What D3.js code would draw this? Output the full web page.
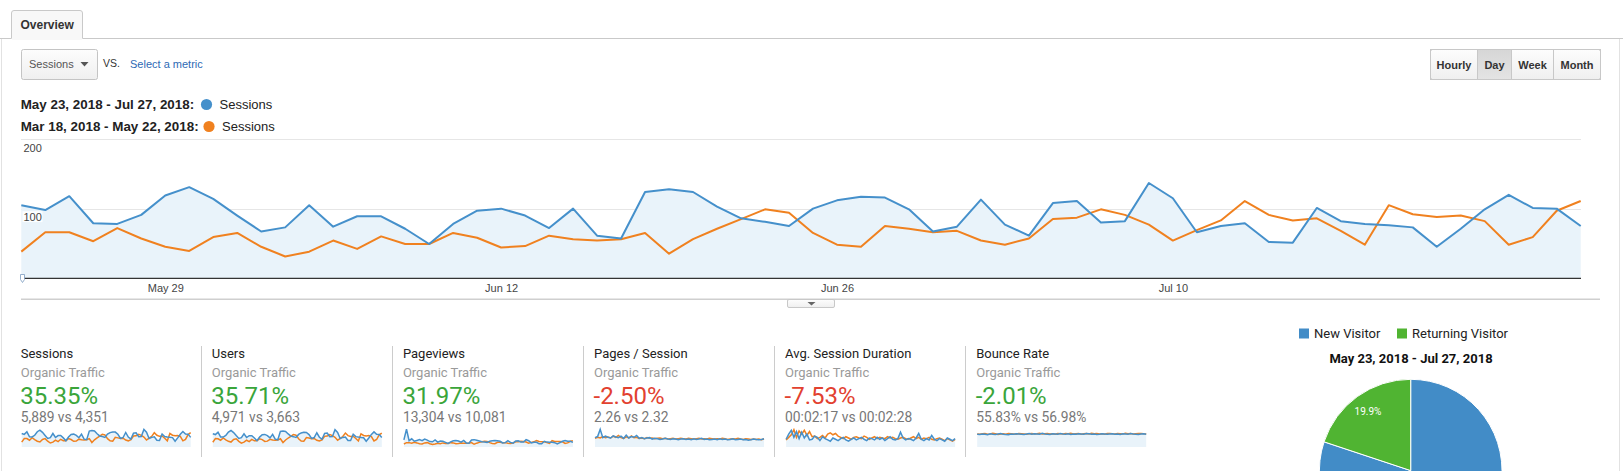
<!DOCTYPE html>
<html><head><meta charset="utf-8">
<script src="https://cdn.jsdelivr.net/npm/d3@7/dist/d3.min.js"></script>
<style>
html,body{margin:0;padding:0;background:#fff;overflow:hidden}
svg text{font-family:"Liberation Sans",Arial,sans-serif}
svg .rb{font-family:Roboto,"Noto Sans",sans-serif}
</style></head><body>
<svg id="c" width="1623" height="471"></svg>
<script>
// ---------- DATA ----------
const startDate = "2018-05-23";
const dayCount = 66;
const sessionsCurrent = [105,98,118,79,78,91,119,131,114,90,67,73,105,74,89,89,71,49,78,97,100,90,72,100,61,57,124,128,124,103,86,81,75,100,112,117,116,99,67,74,113,77,61,108,111,80,82,137,115,66,75,79,52,51,101,82,78,76,73,45,71,99,120,101,100,75];
const sessionsPrevious = [38,66,66,53,72,57,45,39,59,65,45,31,38,54,42,60,49,49,65,58,44,46,61,56,54,56,65,35,56,71,85,99,94,65,48,45,75,71,66,68,54,48,57,85,87,99,91,77,54,69,83,111,91,83,86,68,48,105,92,88,90,82,48,59,97,111];
const xTickLabels = ["May 29","Jun 12","Jun 26","Jul 10"];
const xTickDates = ["2018-05-29","2018-06-12","2018-06-26","2018-07-10"];
const yTicks = [100,200];
const legendRanges = ["May 23, 2018 - Jul 27, 2018:","Mar 18, 2018 - May 22, 2018:"];
const legendMetric = "Sessions";
const intervalButtons = ["Hourly","Day","Week","Month"];

const usersCurrent = [88,83,99,67,66,77,100,110,96,76,57,62,88,63,75,75,60,42,66,82,84,76,61,84,52,48,104,107,104,87,73,69,64,84,94,98,97,83,57,63,95,65,52,91,93,68,69,115,97,56,64,67,44,43,85,69,66,64,62,38,60,84,101,85,84,64];
const usersPrevious = [32,56,55,45,60,48,38,33,50,55,38,26,32,45,36,51,41,41,55,49,37,39,51,47,45,47,55,30,47,60,71,83,79,55,40,38,63,60,55,57,45,40,48,71,73,83,76,65,45,58,70,93,76,70,72,57,40,88,77,74,76,69,40,50,81,93];
const pageviewsCurrent = [260,650,230,300,210,240,270,230,290,250,200,190,260,180,220,210,170,130,190,230,240,220,180,240,150,140,260,270,250,220,190,180,170,210,230,240,230,210,150,160,230,170,140,220,230,180,180,270,230,150,170,170,120,120,210,180,170,170,160,110,160,210,240,210,210,170];
const pageviewsPrevious = [110,160,160,140,170,150,120,110,150,160,120,90,110,140,120,150,130,130,160,150,120,130,150,140,140,140,160,100,140,170,190,210,200,160,130,120,170,170,160,160,140,130,150,190,190,210,200,180,140,170,190,240,200,190,190,160,130,230,200,200,200,190,130,150,210,230];
const pagesPerSessionCurrent = [2.6,2.9,4.9,2.6,3.0,2.7,2.5,3.1,2.8,2.6,3.0,2.4,3.3,2.5,2.9,2.7,3.2,2.4,2.6,2.3,2.5,2.6,2.2,2.4,2.3,2.1,2.2,2.4,2.2,2.1,2.3,2.2,2.0,2.2,2.3,2.1,2.2,2.0,2.3,2.1,2.2,2.4,2.1,2.2,2.0,2.1,2.2,2.0,2.3,2.1,2.2,2.0,2.1,2.3,2.0,2.1,2.2,2.0,2.1,1.9,2.0,2.2,2.1,2.0,2.1,2.3];
const pagesPerSessionPrevious = [2.4,2.7,2.5,2.9,2.6,2.8,2.5,3.0,2.7,3.2,2.6,2.4,2.8,2.5,3.1,2.6,2.7,2.4,2.5,2.3,2.6,2.4,2.5,2.3,2.4,2.5,2.3,2.4,2.2,2.3,2.4,2.2,2.3,2.4,2.3,2.2,2.4,2.3,2.2,2.3,2.4,2.2,2.3,2.2,2.4,2.3,2.2,2.3,2.2,2.4,2.3,2.1,2.2,2.3,2.2,2.4,2.2,2.1,2.3,2.2,2.1,2.2,2.1,2.2,2.0,2.2];
const durationCurrent = [120,200,260,150,240,130,230,140,200,110,120,170,150,100,160,130,110,90,140,120,100,130,150,110,90,120,140,110,130,150,120,100,140,130,110,150,120,140,100,130,160,120,110,130,230,140,110,130,120,100,140,210,120,100,130,110,180,120,100,130,110,90,140,120,100,130];
const durationPrevious = [110,150,190,270,150,250,200,260,180,240,160,170,130,150,180,140,200,220,190,210,170,150,130,160,140,120,150,160,140,130,170,150,120,140,160,130,150,140,130,160,140,150,130,120,140,150,130,120,140,160,130,150,120,140,130,150,120,110,130,140,120,100,130,110,90,120];
const bounceCurrent = [55,54,56,55,53,57,55,54,56,58,55,54,53,56,55,57,56,55,54,56,58,55,57,56,55,59,56,55,54,57,56,55,58,56,55,57,54,56,55,57,56,55,58,57,55,56,54,55,57,56,55,56,57,55,56,54,57,56,55,58,56,55,54,56,57,55];
const bouncePrevious = [56,55,57,58,55,56,59,57,54,56,57,55,58,57,56,55,58,57,56,55,57,58,56,57,59,56,57,58,56,57,55,58,57,56,58,57,59,56,57,58,55,57,58,56,59,57,58,56,57,55,58,59,57,56,58,57,56,59,57,58,56,57,58,59,57,56];

const cardTitles = ["Sessions","Users","Pageviews","Pages / Session","Avg. Session Duration","Bounce Rate"];
const cardSubtitle = "Organic Traffic";
const cardChanges = ["35.35%","35.71%","31.97%","-2.50%","-7.53%","-2.01%"];
const cardGood = [true,true,true,false,false,true];
const cardCompares = ["5,889 vs 4,351","4,971 vs 3,663","13,304 vs 10,081","2.26 vs 2.32","00:02:17 vs 00:02:28","55.83% vs 56.98%"];
const cardSeriesCurrent = [sessionsCurrent,usersCurrent,pageviewsCurrent,pagesPerSessionCurrent,durationCurrent,bounceCurrent];
const cardSeriesPrevious = [sessionsPrevious,usersPrevious,pageviewsPrevious,pagesPerSessionPrevious,durationPrevious,bouncePrevious];
const cardScaleMax = [140,120,660,5,280,78];

const pieLabels = ["New Visitor","Returning Visitor"];
const pieValues = [80.1,19.9];
const pieTitle = "May 23, 2018 - Jul 27, 2018";

// ---------- STYLE ----------
const BLUE = "#4590cb", ORANGE = "#f0811f", FILL = "#e9f3fa";
const PIE_BLUE = "#428cc7", PIE_GREEN = "#50b432";
const GREEN = "#3aa53a", RED = "#e2412f";

const svg = d3.select("#c");
const parse = d3.timeParse("%Y-%m-%d");
const d0 = parse(startDate);
const dates = d3.range(dayCount).map(i => d3.timeDay.offset(d0, i));

// defs
const defs = svg.append("defs");
const g1 = defs.append("linearGradient").attr("id","btn").attr("x1",0).attr("x2",0).attr("y1",0).attr("y2",1);
g1.append("stop").attr("offset","0").attr("stop-color","#fdfdfd");
g1.append("stop").attr("offset","1").attr("stop-color","#efefef");
const g2 = defs.append("linearGradient").attr("id","btnOn").attr("x1",0).attr("x2",0).attr("y1",0).attr("y2",1);
g2.append("stop").attr("offset","0").attr("stop-color","#d6d6d6");
g2.append("stop").attr("offset","1").attr("stop-color","#e4e4e4");

// ---------- frame / tab ----------
svg.append("line").attr("x1",0).attr("x2",11.5).attr("y1",38.5).attr("y2",38.5).attr("stroke","#c9c9c9");
svg.append("line").attr("x1",82.5).attr("x2",1623).attr("y1",38.5).attr("y2",38.5).attr("stroke","#c9c9c9");
svg.append("path").attr("d","M11.5,38.5 V13 Q11.5,10.5 14,10.5 H80 Q82.5,10.5 82.5,13 V38.5")
  .attr("fill","#f8f8f8").attr("stroke","#c9c9c9");
svg.append("rect").attr("x",12).attr("y",37).attr("width",70).attr("height",3).attr("fill","#f8f8f8");
svg.append("text").attr("x",20.5).attr("y",28.5).attr("font-size",12).attr("font-weight","bold").attr("fill","#333").text("Overview");
svg.append("line").attr("x1",1.5).attr("x2",1.5).attr("y1",39).attr("y2",471).attr("stroke","#e2e2e2");
svg.append("line").attr("x1",1619.5).attr("x2",1619.5).attr("y1",39).attr("y2",471).attr("stroke","#e2e2e2");

// ---------- metric selector ----------
svg.append("rect").attr("x",21.5).attr("y",49.5).attr("width",76).attr("height",30).attr("rx",2)
  .attr("fill","url(#btn)").attr("stroke","#c4c4c4");
svg.append("text").attr("x",29).attr("y",67.5).attr("font-size",11).attr("fill","#555").text(legendMetric);
svg.append("path").attr("d","M80.5,62 L88.5,62 L84.5,66.5 Z").attr("fill","#555");
svg.append("text").attr("x",103).attr("y",66.5).attr("font-size",10.5).attr("fill","#333").text("VS.");
svg.append("text").attr("x",130).attr("y",67.5).attr("font-size",11).attr("fill","#2d6ab5").text("Select a metric");

// ---------- interval buttons ----------
const btnX = [1430.5,1477.5,1511.5,1553.5,1600.5];
intervalButtons.forEach((b,i)=>{
  svg.append("rect").attr("x",btnX[i]).attr("y",49.5).attr("width",btnX[i+1]-btnX[i]).attr("height",30)
    .attr("fill", i===1 ? "url(#btnOn)" : "url(#btn)").attr("stroke","#c8c8c8");
  svg.append("text").attr("x",(btnX[i]+btnX[i+1])/2).attr("y",68.5).attr("text-anchor","middle")
    .attr("font-size",11).attr("font-weight","bold").attr("fill","#333").text(b);
});
svg.append("rect").attr("x",btnX[0]).attr("y",49.5).attr("width",btnX[4]-btnX[0]).attr("height",30).attr("rx",2)
  .attr("fill","none").attr("stroke","#c8c8c8");

// ---------- legend ----------
const legY = [104.5,126.5];
const legColors = [BLUE, ORANGE];
const legDotX = [206.5,209];
legendRanges.forEach((t,i)=>{
  svg.append("text").attr("x",20.7).attr("y",legY[i]+4.8).attr("font-size",13.4).attr("font-weight","bold").attr("fill","#222").text(t);
  svg.append("circle").attr("cx",legDotX[i]).attr("cy",legY[i]).attr("r",5.6).attr("fill",legColors[i]);
  svg.append("text").attr("x",legDotX[i]+13).attr("y",legY[i]+4.6).attr("font-size",13).attr("fill","#222").text(legendMetric);
});

// ---------- main chart ----------
const x = d3.scaleTime().domain([dates[0], dates[dayCount-1]]).range([21.3, 1580.7]);
const y = d3.scaleLinear().domain([0,200]).range([278, 139.3]);

const grid = svg.append("g");
yTicks.forEach(t=>{
  grid.append("line").attr("x1",21).attr("x2",1581).attr("y1",Math.round(y(t))+0.5).attr("y2",Math.round(y(t))+0.5).attr("stroke","#e6e6e6");
});

svg.append("path").datum(sessionsCurrent)
  .attr("d", d3.area().x((d,i)=>x(dates[i])).y0(y(0)).y1(d=>y(d)))
  .attr("fill", FILL);

yTicks.forEach(t=>{
  const ty = y(t);
  svg.append("rect").attr("x",22.5).attr("y",ty+2.5).attr("width",20).attr("height",11).attr("fill","#fff").attr("opacity",0.85);
  svg.append("text").attr("x",23.5).attr("y",ty+12.3).attr("font-size",11).attr("fill","#444").text(t);
});

const line = d3.line().x((d,i)=>x(dates[i])).y(d=>y(d));
svg.append("path").datum(sessionsPrevious).attr("d",line).attr("fill","none").attr("stroke",ORANGE).attr("stroke-width",2).attr("stroke-linejoin","round");
svg.append("path").datum(sessionsCurrent).attr("d",line).attr("fill","none").attr("stroke",BLUE).attr("stroke-width",2).attr("stroke-linejoin","round");

svg.append("line").attr("x1",21).attr("x2",1581).attr("y1",278.3).attr("y2",278.3).attr("stroke","#333").attr("stroke-width",1.3);
svg.append("path").attr("d","M20.5,274.5 h4 v5 l-2,3 l-2,-3 Z").attr("fill","#fff").attr("stroke","#7b9cc0").attr("stroke-width",0.8);

const xAxis = d3.axisBottom(x).tickValues(xTickDates.map(parse)).tickFormat((d,i)=>xTickLabels[i]).tickSize(0).tickPadding(0);
const ax = svg.append("g").attr("transform","translate(0,284)").call(xAxis);
ax.select(".domain").remove();
ax.selectAll("text").attr("font-family","'Liberation Sans',Arial,sans-serif").attr("font-size",11).attr("fill","#444").attr("dy","0.71em");

svg.append("line").attr("x1",21).attr("x2",1600).attr("y1",299.3).attr("y2",299.3).attr("stroke","#cfcfcf").attr("stroke-width",1.5);
svg.append("rect").attr("x",787.5).attr("y",299.5).attr("width",47).attr("height",8).attr("rx",1.5).attr("fill","url(#btn)").attr("stroke","#c8c8c8");
svg.append("path").attr("d","M807.5,302 L815.5,302 L811.5,305.5 Z").attr("fill","#666");

// ---------- scorecards ----------
const cardStep = 191.1, cardX0 = 20.7, sparkW = 170;
cardTitles.forEach((t,i)=>{
  const cx = cardX0 + i*cardStep;
  const g = svg.append("g");
  if(i>0) g.append("line").attr("x1",Math.round(cx-11)+0.5).attr("x2",Math.round(cx-11)+0.5).attr("y1",346).attr("y2",457).attr("stroke","#cccccc");
  g.append("text").attr("class","rb").attr("x",cx).attr("y",357.5).attr("font-size",13).attr("fill","#222").text(t);
  g.append("text").attr("class","rb").attr("x",cx).attr("y",377).attr("font-size",13).attr("fill","#9a9a9a").text(cardSubtitle);
  g.append("text").attr("class","rb").attr("x",cx-0.5).attr("y",403.5).attr("font-size",24).attr("fill",cardGood[i]?GREEN:RED).text(cardChanges[i]);
  g.append("text").attr("class","rb").attr("x",cx).attr("y",421.5).attr("font-size",13.8).attr("fill","#777").text(cardCompares[i]);

  const sx = d3.scaleLinear().domain([0, dayCount-1]).range([cx+1, cx+sparkW]);
  const sy = d3.scaleLinear().domain([0, cardScaleMax[i]]).range([447, 429]);
  g.append("path").datum(cardSeriesCurrent[i]).attr("d", d3.area().x((d,k)=>sx(k)).y0(447).y1(d=>sy(d))).attr("fill",FILL);
  const sl = d3.line().x((d,k)=>sx(k)).y(d=>sy(d));
  g.append("path").datum(cardSeriesPrevious[i]).attr("d",sl).attr("fill","none").attr("stroke",ORANGE).attr("stroke-width",1.5);
  g.append("path").datum(cardSeriesCurrent[i]).attr("d",sl).attr("fill","none").attr("stroke",BLUE).attr("stroke-width",1.5);
});

// ---------- pie ----------
const pieColors = [PIE_BLUE, PIE_GREEN];
const legX = [1299,1397];
pieLabels.forEach((l,i)=>{
  svg.append("rect").attr("x",legX[i]).attr("y",328.5).attr("width",10).attr("height",10).attr("fill",pieColors[i]);
  svg.append("text").attr("class","rb").attr("x",legX[i]+15).attr("y",338).attr("font-size",13).attr("fill","#222").text(l);
});
svg.append("text").attr("class","rb").attr("x",1411).attr("y",362.5).attr("text-anchor","middle").attr("font-size",13).attr("font-weight","bold").attr("fill","#111").text(pieTitle);

const pcx = 1410.7, pcy = 470.6, pr = 91.3;
const pie = d3.pie().sort(null).value(d=>d);
const arcs = pie(pieValues);
const arc = d3.arc().innerRadius(0).outerRadius(pr);
const labelArc = d3.arc().innerRadius(pr*0.8).outerRadius(pr*0.8);
const pg = svg.append("g").attr("transform",`translate(${pcx},${pcy})`);
pg.selectAll("path").data(arcs).join("path").attr("d",arc).attr("fill",(d,i)=>pieColors[i]).attr("stroke","#fff").attr("stroke-width",1);
// only labels that fall inside the visible window
pg.selectAll("text").data(arcs.filter(d => pcy + labelArc.centroid(d)[1] < 460)).join("text").attr("class","rb")
  .attr("transform",d=>`translate(${labelArc.centroid(d)})`).attr("text-anchor","middle").attr("dy","0.35em")
  .attr("font-size",10).attr("fill","#fff").text(d=>d.data.toFixed(1)+"%");
</script>
</body></html>
